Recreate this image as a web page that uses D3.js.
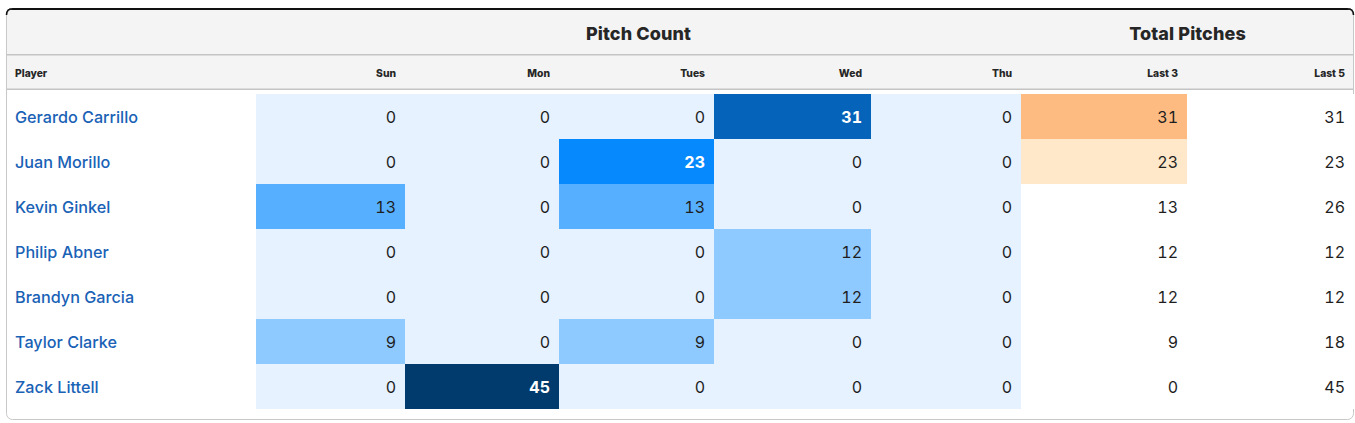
<!DOCTYPE html>
<html><head><meta charset="utf-8">
<script src="https://cdn.jsdelivr.net/npm/d3@7"></script>
<style>
html,body{margin:0;padding:0;background:#fff;}
svg{display:block;}
text{font-family:Inter,"Noto Sans",sans-serif;}
</style></head>
<body><svg id="c" width="1355" height="423"></svg>
<script>
// ---- data ----
const players = ["Gerardo Carrillo","Juan Morillo","Kevin Ginkel","Philip Abner","Brandyn Garcia","Taylor Clarke","Zack Littell"];
const dayLabels = ["Sun","Mon","Tues","Wed","Thu"];
const sun  = [0,0,13,0,0,9,0];
const mon  = [0,0,0,0,0,0,45];
const tues = [0,23,13,0,0,9,0];
const wed  = [31,0,0,12,12,0,0];
const thu  = [0,0,0,0,0,0,0];
const last3 = [31,23,13,12,12,9,0];
const last5 = [31,23,26,12,12,18,45];
const totalLabels = ["Last 3","Last 5"];
const groupLabels = ["Pitch Count","Total Pitches"];

// ---- layout ----
const svg = d3.select("#c");
const L = 6, R = 1354, T = 8, B = 420;
const colEdges = [6,256,405,559,714,871,1021,1187,1354];
const dayCols = [sun,mon,tues,wed,thu];

const y = d3.scaleBand().domain(d3.range(players.length)).range([94, 94 + 45*players.length]);

const pitchColor = d3.scaleThreshold().domain([1,13,20,30,40])
  .range(["#e6f2ff","#8ecaff","#56b0ff","#0789fe","#0563b9","#013a6c"]);
const totColor = d3.scaleThreshold().domain([20,30]).range(["#ffffff","#fee8c9","#fdbb82"]);

// container
const clipId = "clipbox";
svg.append("clipPath").attr("id",clipId).append("rect")
  .attr("x",L).attr("y",T).attr("width",R-L).attr("height",B-T).attr("rx",6);
const g = svg.append("g").attr("clip-path","url(#"+clipId+")");
g.append("rect").attr("x",L).attr("y",T).attr("width",R-L).attr("height",B-T).attr("fill","#fff");
g.append("rect").attr("x",L).attr("y",T).attr("width",R-L).attr("height",82).attr("fill","#f4f4f4");
g.append("rect").attr("x",L).attr("y",T).attr("width",R-L).attr("height",2).attr("fill","#111");
g.append("rect").attr("x",L).attr("y",54).attr("width",R-L).attr("height",1.5).attr("fill","#c4c4c4");
g.append("rect").attr("x",L).attr("y",88.5).attr("width",R-L).attr("height",1.5).attr("fill","#c4c4c4");
g.append("rect").attr("x",L).attr("y",90).attr("width",R-L).attr("height",4).attr("fill","#fff");
svg.append("rect").attr("x",L+0.5).attr("y",T+0.5).attr("width",R-L-1).attr("height",B-T-1).attr("rx",6)
  .attr("fill","none").attr("stroke","#c8c8c8").attr("stroke-width",1);
svg.append("path").attr("d",`M${L+0.5},${T+7} Q${L+0.5},${T+0.8} ${L+7},${T+0.8} L${R-7},${T+0.8} Q${R-0.5},${T+0.8} ${R-0.5},${T+7}`)
  .attr("fill","none").attr("stroke","#111").attr("stroke-width",1.6);

// group headers
const groups = [[1,6],[6,8]];
svg.selectAll("text.grp").data(groupLabels).join("text").attr("class","grp")
  .attr("x",(d,i)=>(colEdges[groups[i][0]]+colEdges[groups[i][1]])/2)
  .attr("y",40).attr("text-anchor","middle")
  .attr("font-size",18).attr("font-weight",800).attr("fill","#262626").attr("letter-spacing","0.1")
  .text(d=>d);

// sub headers
const subLabels = ["Player"].concat(dayLabels, totalLabels);
svg.selectAll("text.sub").data(subLabels).join("text").attr("class","sub")
  .attr("x",(d,i)=> i===0 ? colEdges[0]+9 : colEdges[i+1]-9)
  .attr("y",76.5).attr("text-anchor",(d,i)=> i===0?"start":"end")
  .attr("font-size",10.3).attr("font-weight",800).attr("fill","#262626")
  .text(d=>d);

// rows
const rows = svg.selectAll("g.row").data(players).join("g").attr("class","row")
  .attr("transform",(d,i)=>`translate(0,${y(i)})`);
rows.append("text").attr("x",colEdges[0]+9).attr("y",y.bandwidth()/2+6)
  .attr("font-size",16.2).attr("font-weight",500).attr("fill","#1a62b6").text(d=>d);

dayCols.forEach((col,ci)=>{
  const x0 = colEdges[ci+1], x1 = colEdges[ci+2];
  rows.append("rect").attr("x",x0).attr("y",0).attr("width",x1-x0).attr("height",y.bandwidth())
    .attr("fill",(d,i)=>pitchColor(col[i]));
  rows.append("text").attr("x",x1-9).attr("y",y.bandwidth()/2+6).attr("text-anchor","end")
    .attr("font-size",16).style("font-variant-numeric","tabular-nums")
    .attr("font-weight",(d,i)=>col[i]>=20?700:400)
    .attr("fill",(d,i)=>col[i]>=20?"#fff":"#1e1e1e").text((d,i)=>col[i]);
});
[[last3,true],[last5,false]].forEach(([col,colored],k)=>{
  const x0 = colEdges[6+k], x1 = colEdges[7+k];
  rows.append("rect").attr("x",x0).attr("y",0).attr("width",x1-x0).attr("height",y.bandwidth())
    .attr("fill",(d,i)=>colored?totColor(col[i]):"#fff");
  rows.append("text").attr("x",x1-9).attr("y",y.bandwidth()/2+6).attr("text-anchor","end")
    .attr("font-size",16).style("font-variant-numeric","tabular-nums")
    .attr("fill","#1e1e1e").text((d,i)=>col[i]);
});
</script></body></html>
